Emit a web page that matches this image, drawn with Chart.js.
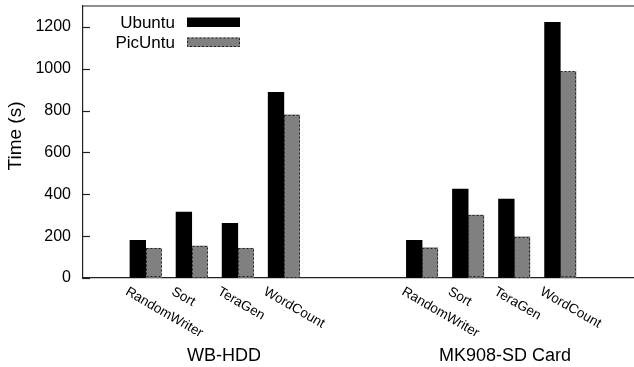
<!DOCTYPE html>
<html>
<head>
<meta charset="utf-8">
<script src="https://cdn.jsdelivr.net/npm/chart.js@4.4.1/dist/chart.umd.min.js"></script>
<style>
  html, body { margin: 0; padding: 0; background: #fff; }
</style>
</head>
<body>
<canvas id="chart" width="634" height="367"></canvas>
<script>
const benchmarks = ["RandomWriter", "Sort", "TeraGen", "WordCount"];
const platforms = ["WB-HDD", "MK908-SD Card"];
const seriesNames = ["Ubuntu", "PicUntu"];
const ubuntuHDD = [180, 315, 261, 887];
const picuntuHDD = [142, 153, 142, 780];
const ubuntuSD = [180, 425, 377, 1222];
const picuntuSD = [145, 301, 197, 987];
const yTicks = [0, 200, 400, 600, 800, 1000, 1200];

const FONT = "'Liberation Sans', Arial, Helvetica, sans-serif";
const GROUP_GAP = 6; // slots from one platform's first bar pair to the next

function toPoints(hdd, sd) {
    let pts = [];
    [hdd, sd].forEach((vals, g) => {
        vals.forEach((v, c) => pts.push({ x: g * GROUP_GAP + c, y: v }));
    });
    return pts;
}

const colors = ["#000000", "#808080"];

// draws the bits gnuplot had that chart.js doesn't: inward ticks, rotated labels, legend on the left
const gnuplotBits = {
    id: "gnuplotBits",
    afterDatasetsDraw(chart) {
        const ctx = chart.ctx;
        const meta = chart.getDatasetMeta(1);
        ctx.save();
        ctx.strokeStyle = "#222";
        ctx.lineWidth = 1;
        ctx.setLineDash([2, 2]);
        meta.data.forEach(bar => {
            const p = bar.getProps(["x", "y", "base", "width"], true);
            const left = Math.round(p.x - p.width / 2) + 0.5;
            const top = Math.round(p.y) + 0.5;
            ctx.strokeRect(left, top, Math.round(p.width) - 1, Math.round(p.base - p.y) - 1);
        });
        ctx.restore();
    },
    afterDraw(chart) {
        const ctx = chart.ctx;
        const area = chart.chartArea;
        const xs = chart.scales.x;
        const ys = chart.scales.y;

        ctx.save();
        // top border
        ctx.strokeStyle = "#222";
        ctx.lineWidth = 1.2;
        ctx.beginPath();
        ctx.moveTo(area.left, area.top);
        ctx.lineTo(area.right, area.top);
        ctx.stroke();

        // inward y ticks
        yTicks.forEach(v => {
            const py = Math.round(ys.getPixelForValue(v)) + 0.5;
            ctx.beginPath();
            ctx.moveTo(area.left, py);
            ctx.lineTo(area.left + 7, py);
            ctx.stroke();
        });

        ctx.fillStyle = "#000";

        // y title
        ctx.save();
        ctx.font = "19px " + FONT;
        ctx.textAlign = "center";
        ctx.textBaseline = "middle";
        ctx.translate(15.5, 136);
        ctx.rotate(-Math.PI / 2);
        ctx.fillText("Time (s)", 0, 0);
        ctx.restore();

        // rotated benchmark labels
        ctx.font = "13.5px " + FONT;
        ctx.textAlign = "left";
        ctx.textBaseline = "alphabetic";
        platforms.forEach((name, g) => {
            benchmarks.forEach((b, c) => {
                const px = xs.getPixelForValue(g * GROUP_GAP + c);
                ctx.save();
                ctx.translate(px - 21, 294);
                ctx.rotate(Math.PI / 6);
                ctx.fillText(b, 0, 0);
                ctx.restore();
            });
        });

        // platform names
        ctx.font = "18px " + FONT;
        ctx.textAlign = "center";
        platforms.forEach((name, g) => {
            const px = xs.getPixelForValue(g * GROUP_GAP + 1.7 + g * 0.1);
            ctx.fillText(name, px, 361);
        });

        // legend
        ctx.font = "17px " + FONT;
        ctx.textAlign = "right";
        seriesNames.forEach((name, i) => {
            const base = 28 + i * 20;
            ctx.fillText(name, 175, base);
            ctx.fillStyle = colors[i];
            ctx.fillRect(187, base - 10.5, 53, 9.5);
            if (i === 1) {
                ctx.strokeStyle = "#222";
                ctx.lineWidth = 1;
                ctx.setLineDash([2, 2]);
                ctx.strokeRect(187.5, base - 10, 52, 8.5);
                ctx.setLineDash([]);
            }
            ctx.fillStyle = "#000";
        });
        ctx.restore();
    }
};

new Chart(document.getElementById("chart"), {
    type: "bar",
    data: {
        datasets: [
            {
                label: seriesNames[0],
                data: toPoints(ubuntuHDD, ubuntuSD),
                backgroundColor: colors[0],
                borderWidth: 0,
                barThickness: 15.7
            },
            {
                label: seriesNames[1],
                data: toPoints(picuntuHDD, picuntuSD),
                backgroundColor: colors[1],
                borderWidth: 0,
                barThickness: 15.7
            }
        ]
    },
    options: {
        responsive: false,
        animation: false,
        devicePixelRatio: 1,
        layout: { padding: { top: 6, left: 0, right: 0, bottom: 0 } },
        plugins: {
            legend: { display: false },
            tooltip: { enabled: false }
        },
        scales: {
            x: {
                type: "linear",
                offset: false,
                min: -1.36,
                max: 10.6,
                grid: { display: false, drawTicks: false },
                ticks: { display: false },
                border: { display: true, color: "#222", width: 1.2 },
                afterFit(scale) {
                    scale.height = 89;
                    scale.paddingLeft = 0;
                    scale.paddingRight = 0;
                }
            },
            y: {
                min: 0,
                max: 1300,
                afterBuildTicks(scale) {
                    scale.ticks = yTicks.map(v => ({ value: v }));
                },
                ticks: {
                    color: "#000",
                    padding: 12,
                    font: { family: FONT, size: 16 },
                    callback: v => String(v)
                },
                grid: { drawOnChartArea: false, drawTicks: false },
                border: { display: true, color: "#222", width: 1.2 },
                afterFit(scale) {
                    scale.width = 83;
                    scale.paddingTop = 0;
                    scale.paddingBottom = 0;
                }
            }
        }
    },
    plugins: [gnuplotBits]
});
</script>
</body>
</html>
